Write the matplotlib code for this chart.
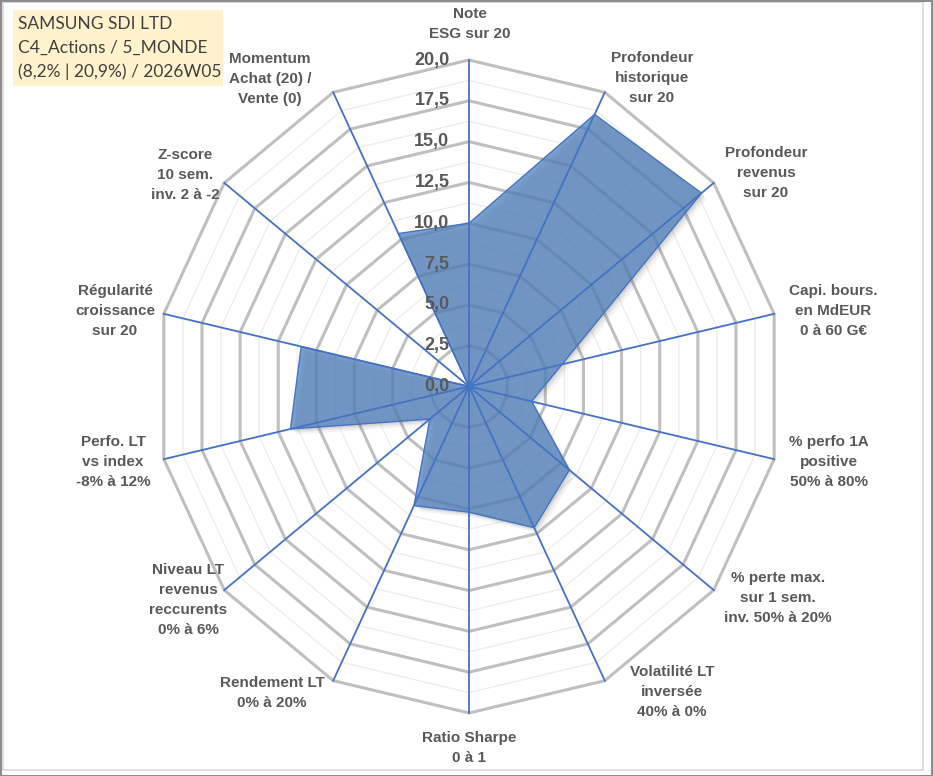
import numpy as np
import matplotlib
matplotlib.use('Agg')
import matplotlib.pyplot as plt
from matplotlib.patches import Polygon, Rectangle

# data (scale 0 -> 20)
axis_labels = ['Note\nESG sur 20',
               'Profondeur\nhistorique\nsur 20',
               'Profondeur\nrevenus\nsur 20',
               'Capi. bours.\nen MdEUR\n0 à 60 G€',
               '% perfo 1A\npositive\n50% à 80%',
               '% perte max.\nsur 1 sem.\ninv. 50% à 20%',
               'Volatilité LT\ninversée\n40% à 0%',
               'Ratio Sharpe\n0 à 1',
               'Rendement LT\n0% à 20%',
               'Niveau LT\nrevenus\nreccurents\n0% à 6%',
               'Perfo. LT\nvs index\n-8% à 12%',
               'Régularité\ncroissance\nsur 20',
               'Z-score\n10 sem.\ninv. 2 à -2',
               'Momentum\nAchat (20) /\nVente (0)']
scores = [10.0, 18.5, 19.0, 6.1, 4.1, 8.2, 9.6, 7.7, 8.1, 3.2, 11.7, 11.0, 0.0, 10.4]
r_ticks = [0, 2.5, 5, 7.5, 10, 12.5, 15, 17.5, 20]
tick_labels = ['0,0', '2,5', '5,0', '7,5', '10,0', '12,5', '15,0', '17,5', '20,0']
title_lines = ['SAMSUNG SDI LTD', 'C4_Actions / 5_MONDE', '(8,2% | 20,9%) / 2026W05']

# label centres in pixels (x, y of the text block centre)
label_pos = [(470, 24), (652, 78), (766, 173), (833, 311), (829, 462), (778, 598),
             (672, 692), (469, 748), (272, 693), (188, 600), (113, 462), (115, 311),
             (185, 175), (270, 79)]

W, H = 933, 776
cx, cy = 469, 386.5      # centre in pixels
rx, ry = 313, 326.5      # pixel length of 20 units (screenshot is a bit squashed)

fig = plt.figure(figsize=(W / 100, H / 100), dpi=100, facecolor='white')
ax = fig.add_axes([0, 0, 1, 1])
ax.set_xlim(-cx / rx * 20, (W - cx) / rx * 20)
ax.set_ylim((cy - H) / ry * 20, cy / ry * 20)
ax.axis('off')

n = len(scores)
theta = np.arange(n) * 2 * np.pi / n
sx, sy = np.sin(theta), np.cos(theta)

# grid: minor rings, major rings
for r in np.arange(1.25, 20, 2.5):
    ax.add_patch(Polygon(np.c_[r * sx, r * sy], closed=True, fill=False,
                         ec='#EBEBEB', lw=0.9, zorder=1))
for r in r_ticks[1:]:
    ax.add_patch(Polygon(np.c_[r * sx, r * sy], closed=True, fill=False,
                         ec='#BFBFBF', lw=2.2, zorder=2))

vals = np.array(scores)
pts = np.c_[vals * sx, vals * sy]

# soft shadow
for k, a in [(0.35, 0.06), (0.22, 0.08), (0.12, 0.10)]:
    ax.add_patch(Polygon(pts + [k, -k], closed=True, fc='#404040', ec='none',
                         alpha=a, zorder=3))
ax.add_patch(Polygon(pts, closed=True, fc='#4F81BD', ec='none', alpha=0.75, zorder=4))
ax.add_patch(Polygon(pts, closed=True, fill=False, ec='#4472C4', lw=1.0, zorder=5))

# spokes
for i in range(n):
    ax.plot([0, 20 * sx[i]], [0, 20 * sy[i]], color='#4472C4', lw=1.3, zorder=6)

# radial tick labels
for r, t in zip(r_ticks, tick_labels):
    ax.text(-1.25, r, t, ha='right', va='center', fontsize=13, fontweight='bold',
            color='#595959', family='Liberation Sans', zorder=7)

# axis labels
for lab, (px, py) in zip(axis_labels, label_pos):
    fig.text(px / W, 1 - py / H, lab, ha='center', va='center', fontsize=11,
             fontweight='bold', color='#595959', family='Liberation Sans',
             linespacing=1.52)

# title box
fig.patches.append(Rectangle((13 / W, 1 - 86 / H), 210 / W, 76 / H, transform=fig.transFigure,
                             fc='#FFF2CC', ec='none', zorder=0))
for j, t in enumerate(title_lines):
    fig.text(18 / W, 1 - (24 + 24 * j) / H, t, ha='left', va='center', fontsize=12.5,
             color='#404040', family='Lato')

# frame
fig.patches.append(Rectangle((3 / W, 6 / H), 920 / W, 768 / H, transform=fig.transFigure,
                             fill=False, ec='#D9D9D9', lw=1.2))
fig.patches.append(Rectangle((0.5 / W, 0.5 / H), (W - 1.5) / W, (H - 1.5) / H,
                             transform=fig.transFigure, fill=False, ec='#8C8C8C', lw=1.5))

fig.savefig('out.png', dpi=100, facecolor='white')
